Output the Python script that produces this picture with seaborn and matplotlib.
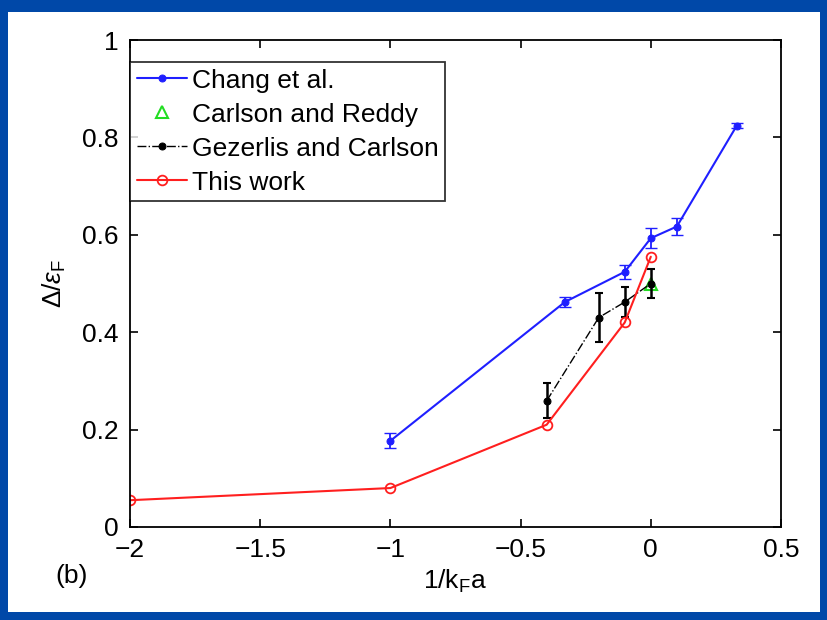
import numpy as np
import pandas as pd
import seaborn as sns
import matplotlib.pyplot as plt
from matplotlib.patches import Rectangle

# === data ===
chang_x = [-1.0, -0.33, -0.1, 0.0, 0.1, 0.33]
chang_y = [0.177, 0.462, 0.524, 0.593, 0.617, 0.824]
chang_err = [0.015, 0.01, 0.015, 0.02, 0.018, 0.005]

reddy_x = [0.0]
reddy_y = [0.50]

gez_x = [-0.4, -0.2, -0.1, 0.0]
gez_y = [0.259, 0.43, 0.462, 0.50]
gez_err = [0.036, 0.05, 0.03, 0.03]

this_x = [-2.0, -1.0, -0.4, -0.1, 0.0]
this_y = [0.055, 0.08, 0.21, 0.42, 0.555]

xticks = [-2, -1.5, -1, -0.5, 0, 0.5]
xticklabels = ["\u22122", "\u22121.5", "\u22121", "\u22120.5", "0", "0.5"]
yticks = [0, 0.2, 0.4, 0.6, 0.8, 1]
yticklabels = ["0", "0.2", "0.4", "0.6", "0.8", "1"]

sns.set_style("ticks")
plt.rcParams["font.family"] = ["Liberation Sans", "DejaVu Sans"]
plt.rcParams["mathtext.fontset"] = "custom"
plt.rcParams["mathtext.rm"] = "Liberation Sans"
plt.rcParams["mathtext.it"] = "Liberation Sans:italic"
plt.rcParams["text.color"] = "black"
plt.rcParams["axes.labelcolor"] = "black"
plt.rcParams["xtick.color"] = "black"
plt.rcParams["ytick.color"] = "black"

fig = plt.figure(figsize=(8.27, 6.2), dpi=100)
fig.patch.set_facecolor("#0048a8")
# white slide area inside the blue frame
fig.add_artist(Rectangle((8 / 827, 8 / 620), 812 / 827, 600 / 620,
                         transform=fig.transFigure, facecolor="white",
                         edgecolor="none", zorder=-10))
ax = fig.add_axes([130 / 827, 93 / 620, 651 / 827, 487 / 620])
ax.set_facecolor("white")

chang = pd.DataFrame({"x": chang_x, "y": chang_y})
gez = pd.DataFrame({"x": gez_x, "y": gez_y})
this = pd.DataFrame({"x": this_x, "y": this_y})

# === lines ===
sns.lineplot(data=chang, x="x", y="y", ax=ax, color="#1f1fff", lw=1.5,
             marker="o", ms=5, mec="#1f1fff", label="Chang et al.")
ax.errorbar(chang_x, chang_y, yerr=chang_err, fmt="none", ecolor="#1f1fff",
            elinewidth=1.3, capsize=4)
sns.lineplot(x=reddy_x, y=reddy_y, ax=ax, color="#22dd22", lw=0,
             marker="^", ms=8, mfc="none", mec="#22dd22", mew=1.5,
             label="Carlson and Reddy")
sns.lineplot(data=gez, x="x", y="y", ax=ax, color="black", lw=1.0,
             linestyle="-.", marker="o", ms=5, mec="black",
             label="Gezerlis and Carlson")
ax.errorbar(gez_x, gez_y, yerr=gez_err, fmt="none", ecolor="black",
            elinewidth=1.8, capsize=3, capthick=1.5)
sns.lineplot(data=this, x="x", y="y", ax=ax, color="#ff1f1f", lw=1.5,
             marker="o", ms=7, mfc="none", mec="#ff1f1f", mew=1.3,
             label="This work")

# === axes ===
ax.set_xlim(-2, 0.5)
ax.set_ylim(0, 1)
ax.set_xticks(xticks)
ax.set_xticklabels(xticklabels)
ax.set_yticks(yticks)
ax.set_yticklabels(yticklabels)
ax.tick_params(direction="in", top=True, right=True, length=6, width=1.2,
               labelsize=19, pad=8)
for s in ax.spines.values():
    s.set_linewidth(1.3)
    s.set_color("black")
ax.set_xlabel(r"1/k$_\mathregular{F}$a", fontsize=19, labelpad=4)
ax.set_ylabel(r"$\Delta/\epsilon_\mathregular{F}$", fontsize=19, labelpad=10)
fig.text(55 / 827, 1 - 576 / 620, "(b)", fontsize=19, va="center")

leg = ax.legend(loc="upper left", bbox_to_anchor=(0.0, 0.955), fontsize=19,
                frameon=True, fancybox=False, handlelength=1.9,
                handletextpad=0.2, borderpad=0.25, labelspacing=0.38,
                borderaxespad=0)
leg.get_frame().set_edgecolor("black")
leg.get_frame().set_linewidth(1.3)

fig.savefig("out.png", dpi=100, facecolor=fig.get_facecolor())
